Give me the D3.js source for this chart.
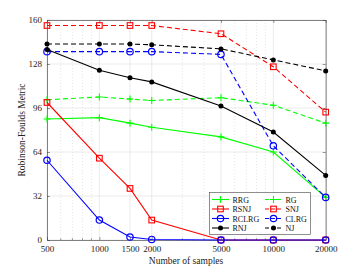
<!DOCTYPE html>
<html><head><meta charset="utf-8">
<script src="https://cdn.jsdelivr.net/npm/d3@7"></script>
<style>body{margin:0;background:#fff}svg{display:block}text{font-family:"Liberation Serif","Times New Roman",serif}</style>
</head><body>
<svg id="c" width="360" height="270"></svg>
<script>
const samples = [500, 1000, 1500, 2000, 5000, 10000, 20000];
const yTicks = [0, 32, 64, 96, 128, 160];
const seriesNames = ["RRG","RG","RSNJ","SNJ","RCLRG","CLRG","RNJ","NJ"];
const RRG   = [88, 89, 85, 82, 75, 64, 31];
const RG    = [102, 104, 102.5, 101.5, 103.5, 98, 85];
const RSNJ  = [100, 59.5, 37.5, 14.5, 0, 0, 0];
const SNJ   = [156, 156, 156, 156, 150, 126, 93];
const RCLRG = [58, 14.5, 2.2, 0.4, 0, 0, 0];
const CLRG  = [137, 137, 137, 137, 135, 68.5, 31];
const RNJ   = [138.5, 123.5, 118, 115, 97.5, 78.5, 47];
const NJ    = [142.5, 142.5, 142.5, 142, 139, 131, 123];

const seriesData = {RRG, RG, RSNJ, SNJ, RCLRG, CLRG, RNJ, NJ};
const styles = {
  RRG:  {color:"#00ff00", dash:null, marker:"plus"},
  RG:   {color:"#00ff00", dash:"5,3", marker:"plus"},
  RSNJ: {color:"#ff0000", dash:null, marker:"square"},
  SNJ:  {color:"#ff0000", dash:"5,3", marker:"square"},
  RCLRG:{color:"#0000ff", dash:null, marker:"circle"},
  CLRG: {color:"#0000ff", dash:"5,3", marker:"circle"},
  RNJ:  {color:"#000000", dash:null, marker:"dot"},
  NJ:   {color:"#000000", dash:"5,3", marker:"dot"}
};

const svg = d3.select("#c");
const L = 47, R = 325.7, T = 20, B = 240;
const x = d3.scaleLog().domain([500, 20000]).range([L, R]);
const y = d3.scaleLinear().domain([0, 160]).range([B, T]);

// minor grid
const minor = [];
for (const dec of [100, 1000, 10000]) for (let k = 1; k <= 9; k++) {
  const v = k * dec;
  if (v > 500 && v < 20000 && !samples.includes(v)) minor.push(v);
}
svg.append("g").selectAll("line").data(minor).join("line")
  .attr("x1", d => x(d)).attr("x2", d => x(d)).attr("y1", T).attr("y2", B)
  .attr("stroke", "#d4d4d4").attr("stroke-width", 0.6).attr("stroke-dasharray", "1,2");
// major grid
svg.append("g").selectAll("line").data(samples).join("line")
  .attr("x1", d => x(d)).attr("x2", d => x(d)).attr("y1", T).attr("y2", B)
  .attr("stroke", "#e3e3e3").attr("stroke-width", 0.7);
svg.append("g").selectAll("line").data(yTicks).join("line")
  .attr("x1", L).attr("x2", R).attr("y1", d => y(d)).attr("y2", d => y(d))
  .attr("stroke", "#e3e3e3").attr("stroke-width", 0.7);

// axes
const xAxis = d3.axisBottom(x).tickValues(samples).tickFormat(d3.format("d")).tickSizeInner(-3).tickSizeOuter(0).tickPadding(6);
const gx = svg.append("g").attr("transform", `translate(0,${B})`).call(xAxis);
gx.append("g").selectAll("line").data(minor).join("line")
  .attr("x1", d => x(d)).attr("x2", d => x(d)).attr("y1", 0).attr("y2", -1.8).attr("stroke", "#333").attr("stroke-width", 0.5);
const xAxisTop = d3.axisTop(x).tickValues(samples).tickFormat("").tickSizeInner(-3).tickSizeOuter(0);
svg.append("g").attr("transform", `translate(0,${T})`).call(xAxisTop);
const yAxis = d3.axisLeft(y).tickValues(yTicks).tickSizeInner(-3).tickSizeOuter(0).tickPadding(5);
svg.append("g").attr("transform", `translate(${L},0)`).call(yAxis);
svg.append("g").attr("transform", `translate(${R},0)`).call(d3.axisRight(y).tickValues(yTicks).tickFormat("").tickSizeInner(-3).tickSizeOuter(0));
svg.selectAll(".domain").attr("stroke", "#333").attr("stroke-width", 0.6);
svg.selectAll(".tick line").attr("stroke", "#333").attr("stroke-width", 0.5);
svg.selectAll(".tick text").attr("font-size", 9).attr("fill", "#222").attr("font-family", "Liberation Serif");

// lines
const line = d3.line().x((d, i) => x(samples[i])).y(d => y(d));
const plot = svg.append("g");
function marker(g, type, cx, cy, color) {
  if (type === "plus") {
    g.append("path").attr("d", `M${cx-3.5},${cy}H${cx+3.5}M${cx},${cy-3.5}V${cy+3.5}`).attr("stroke", color).attr("stroke-width", 1.1).attr("fill", "none");
  } else if (type === "square") {
    g.append("rect").attr("x", cx-2.8).attr("y", cy-2.8).attr("width", 5.6).attr("height", 5.6).attr("stroke", color).attr("stroke-width", 1.1).attr("fill", "none");
  } else if (type === "circle") {
    g.append("circle").attr("cx", cx).attr("cy", cy).attr("r", 3.2).attr("stroke", color).attr("stroke-width", 1.2).attr("fill", "none");
  } else {
    g.append("circle").attr("cx", cx).attr("cy", cy).attr("r", 2.5).attr("fill", color);
  }
}
const drawOrder = ["RG","RRG","SNJ","RSNJ","CLRG","RCLRG","NJ","RNJ"];
for (const name of drawOrder) {
  const s = styles[name], vals = seriesData[name];
  const p = plot.append("path").datum(vals).attr("d", line).attr("fill", "none")
    .attr("stroke", s.color).attr("stroke-width", 1.1);
  if (s.dash) p.attr("stroke-dasharray", s.dash);
  vals.forEach((v, i) => marker(plot, s.marker, x(samples[i]), y(v), s.color));
}

// legend
const lg = svg.append("g");
lg.append("rect").attr("x", 209.5).attr("y", 192.5).attr("width", 101).attr("height", 42)
  .attr("fill", "#fff").attr("stroke", "#444").attr("stroke-width", 0.6);
seriesNames.forEach((name, i) => {
  const col = i % 2, row = Math.floor(i / 2);
  const lx = col === 0 ? 212 : 265, yy = 199.5 + row * 9.5;
  const s = styles[name];
  const ln = lg.append("line").attr("x1", lx).attr("x2", lx + 17).attr("y1", yy).attr("y2", yy)
    .attr("stroke", s.color).attr("stroke-width", 1.1);
  if (s.dash) ln.attr("stroke-dasharray", "4,2");
  marker(lg, s.marker, lx + 8.5, yy, s.color);
  lg.append("text").attr("x", lx + 20.5).attr("y", yy + 3).attr("font-size", 8).attr("fill", "#111").text(name);
});

// axis labels
svg.append("text").attr("x", 186).attr("y", 264).attr("text-anchor", "middle").attr("font-size", 9.5).attr("fill", "#222").text("Number of samples");
svg.append("text").attr("transform", `translate(25,${(T+B)/2}) rotate(-90)`).attr("text-anchor", "middle").attr("font-size", 9.5).attr("fill", "#222").text("Robinson-Foulds Metric");
</script>
</body></html>
